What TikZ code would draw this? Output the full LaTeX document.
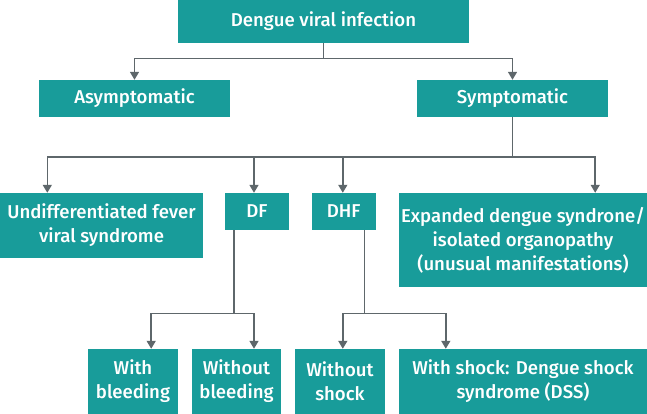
\documentclass[tikz,border=0pt]{standalone}
\usepackage{fontspec}
\setmainfont{Fira Sans}[UprightFont=*,BoldFont=* Medium]
\usetikzlibrary{arrows.meta,calc}
\definecolor{teal1}{HTML}{189C9A}
\definecolor{conn}{HTML}{5E676B}
\begin{document}
\begin{tikzpicture}[x=1pt,y=-1pt,
  box/.style={fill=teal1,draw=none,text=white,align=center,inner sep=0pt,
    font=\fontsize{18.6}{24}\selectfont\bfseries},
  ln/.style={draw=conn,line width=1.5pt},
  arr/.style={ln,-{Triangle[width=9pt,length=8pt]}}]
\useasboundingbox (0,0) rectangle (647,414);
\node[box,minimum width=291pt,minimum height=43pt] (top) at (323.5,21.5) {Dengue viral infection};
\node[box,minimum width=191pt,minimum height=37pt] (asym) at (134.5,98.5) {Asymptomatic};
\node[box,minimum width=191pt,minimum height=37pt] (symp) at (512.5,98.5) {Symptomatic};
\node[box,minimum width=203pt,minimum height=65pt] (undiff) at (101.5,225.5) {Undifferentiated fever\\viral syndrome};
\node[box,minimum width=64pt,minimum height=37pt] (df) at (257,211.5) {DF};
\node[box,minimum width=64.5pt,minimum height=37pt] (dhf) at (343.75,211.5) {DHF};
\node[box,minimum width=248pt,minimum height=94pt] (exp) at (523,240) {Expanded dengue syndrone/\\isolated organopathy\\(unusual manifestations)};
\node[box,minimum width=90pt,minimum height=65pt] (wb) at (133,381.5) {With\\bleeding};
\node[box,minimum width=89pt,minimum height=65pt] (wob) at (236.5,381.5) {Without\\bleeding};
\node[box,minimum width=90pt,minimum height=65pt] (wos) at (340,381.5) {Without\\shock};
\node[box,minimum width=248pt,minimum height=65pt] (ws) at (523,381.5) {With shock: Dengue shock\\syndrome (DSS)};
% level 1
\draw[ln] (top.south) -- ++(0,15.2) coordinate (b1);
\draw[arr] (b1) -| (asym.north);
\draw[arr] (b1) -| (symp.north);
% level 2
\draw[ln] (symp.south) -- ++(0,40) coordinate (b2);
\draw[arr] (b2) -| ([xshift=47.5pt]undiff.north west);
\draw[arr] (b2) -| ([xshift=29.2pt]df.north west);
\draw[arr] (b2) -| ([xshift=31.5pt]dhf.north west);
\draw[arr] (b2) -| ([xshift=196.4pt]exp.north west);
% level 3
\draw[ln] ([xshift=9.4pt]df.south west) -- ++(0,83.3) coordinate (b3);
\draw[arr] (b3) -| ([xshift=63.4pt]wb.north west);
\draw[arr] (b3) -| ([xshift=62.2pt]wob.north west);
\draw[ln] ([xshift=53.3pt]dhf.south west) -- ++(0,83.3) coordinate (b4);
\draw[arr] (b4) -| ([xshift=48pt]wos.north west);
\draw[arr] (b4) -| ([xshift=47pt]ws.north west);
\end{tikzpicture}
\end{document}
